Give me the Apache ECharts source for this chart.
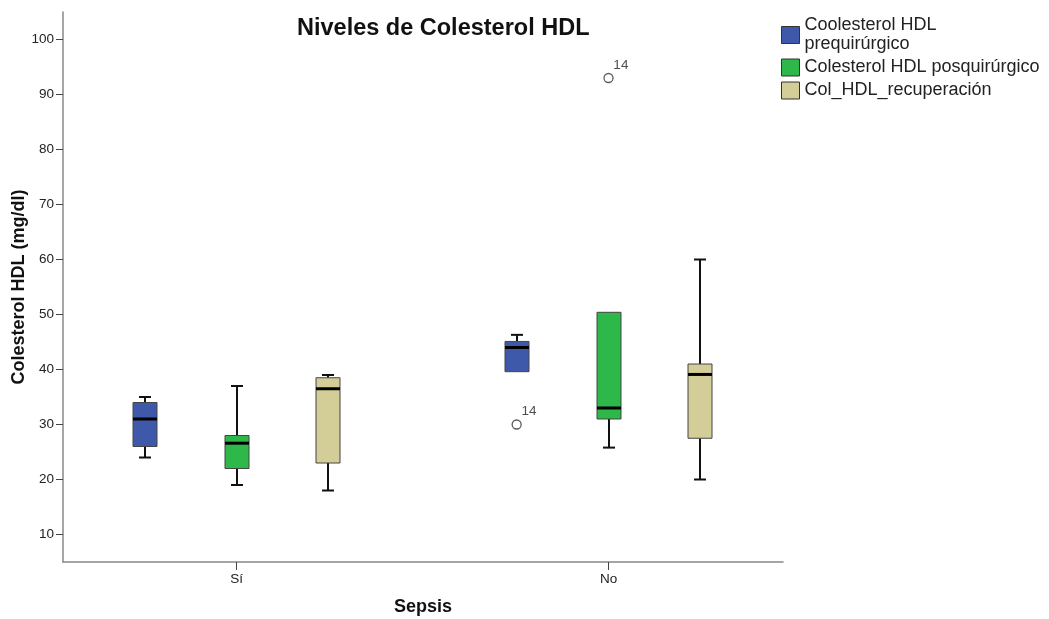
<!DOCTYPE html>
<html>
<head>
<meta charset="utf-8">
<script src="https://cdn.jsdelivr.net/npm/echarts@6/dist/echarts.min.js"></script>
<style>html,body{margin:0;padding:0;background:#fff}#c{width:1049px;height:619px}</style>
</head>
<body>
<div id="c"></div>
<script>
// ---- data ----
const categories = ['Sí', 'No'];
const seriesNames = ['Coolesterol HDL\nprequirúrgico', 'Colesterol HDL posquirúrgico', 'Col_HDL_recuperación'];
// [min, Q1, median, Q3, max] per category (Sí, No)
const preQuirurgico = [[24, 26, 31, 34, 35], [39.6, 39.6, 44, 45.1, 46.3]];
const posQuirurgico = [[19, 22, 26.6, 28, 37], [25.8, 31, 33, 50.4, 50.4]];
const recuperacion  = [[18, 23, 36.5, 38.5, 39], [20, 27.5, 39.1, 41, 60]];
// outliers: [categoryIndex, value, case label]
const preOutliers = [[1, 30, '14']];
const posOutliers = [[1, 93, '14']];
const recOutliers = [];
const yTicks = [10, 20, 30, 40, 50, 60, 70, 80, 90, 100];

const colors = ['#3E58AA', '#2EB84A', '#D3CE97'];
const offsets = [-0.247, 0, 0.247];
const BOX_W = 24, CAP_W = 12;
const FONT = 'Liberation Sans, Arial, sans-serif';

function makeRender(si) {
  return function (params, api) {
    const x = api.value(0) + offsets[si];
    const pMin = api.coord([x, api.value(1)]);
    const pQ1 = api.coord([x, api.value(2)]);
    const pMed = api.coord([x, api.value(3)]);
    const pQ3 = api.coord([x, api.value(4)]);
    const pMax = api.coord([x, api.value(5)]);
    const cx = Math.round(pMed[0]);
    const hw = BOX_W / 2, cw = CAP_W / 2;
    const lineStyle = { stroke: '#111', lineWidth: 2 };
    const children = [];
    if (pMax[1] < pQ3[1] - 0.5) {
      children.push({ type: 'line', shape: { x1: cx, y1: pQ3[1], x2: cx, y2: pMax[1] }, style: lineStyle });
      children.push({ type: 'line', shape: { x1: cx - cw, y1: pMax[1], x2: cx + cw, y2: pMax[1] }, style: lineStyle });
    }
    if (pMin[1] > pQ1[1] + 0.5) {
      children.push({ type: 'line', shape: { x1: cx, y1: pQ1[1], x2: cx, y2: pMin[1] }, style: lineStyle });
      children.push({ type: 'line', shape: { x1: cx - cw, y1: pMin[1], x2: cx + cw, y2: pMin[1] }, style: lineStyle });
    }
    children.push({ type: 'rect', shape: { x: cx - hw, y: pQ3[1], width: BOX_W, height: pQ1[1] - pQ3[1] },
      style: { fill: colors[si], stroke: '#444', lineWidth: 1 } });
    children.push({ type: 'line', shape: { x1: cx - hw, y1: pMed[1], x2: cx + hw, y2: pMed[1] },
      style: { stroke: '#000', lineWidth: 3 } });
    return { type: 'group', children: children };
  };
}

const boxData = [preQuirurgico, posQuirurgico, recuperacion];
const outData = [preOutliers, posOutliers, recOutliers];

const series = [];
boxData.forEach(function (arr, si) {
  series.push({
    name: seriesNames[si],
    type: 'custom',
    renderItem: makeRender(si),
    itemStyle: { color: colors[si], borderColor: '#444', borderWidth: 1 },
    encode: { x: 0, y: [1, 2, 3, 4, 5] },
    data: arr.map(function (d, ci) { return [ci].concat(d); }),
    z: 2
  });
});
outData.forEach(function (arr, si) {
  if (!arr.length) return;
  series.push({
    name: 'out' + si,
    type: 'scatter',
    symbol: 'circle',
    symbolSize: 9,
    itemStyle: { color: '#fff', borderColor: '#333', borderWidth: 1.3 },
    label: { show: true, position: [10, -15], formatter: function (p) { return p.data[2]; },
      fontSize: 13.5, color: '#222', fontFamily: FONT },
    data: arr.map(function (o) { return [o[0] + offsets[si], o[1], o[2]]; }),
    z: 3
  });
});

const chart = echarts.init(document.getElementById('c'), null, { renderer: 'canvas' });
chart.setOption({
  animation: false,
  backgroundColor: '#fff',
  title: {
    text: 'Niveles de Colesterol HDL',
    left: 297, top: 17, padding: 0,
    textStyle: { fontFamily: FONT, fontSize: 23.5, fontWeight: 'bold', color: '#111' }
  },
  legend: {
    data: seriesNames,
    orient: 'vertical',
    left: 781, top: 16, padding: 0,
    itemWidth: 18, itemHeight: 17, itemGap: 4,
    icon: 'rect',
    itemStyle: { borderColor: '#333', borderWidth: 1 },
    textStyle: { fontFamily: FONT, fontSize: 18, color: '#222', lineHeight: 19 }
  },
  grid: { left: 63, top: 12, width: 720, height: 550, containLabel: false, outerBoundsMode: 'none' },
  xAxis: {
    type: 'value',
    min: -0.4664, max: 1.469,
    name: 'Sepsis', nameLocation: 'middle', nameGap: 36, nameMoveOverlap: false,
    nameTextStyle: { fontFamily: FONT, fontSize: 18, fontWeight: 'bold', color: '#111' },
    axisLine: { show: true, onZero: false, lineStyle: { color: '#888', width: 1.5 } },
    axisTick: { show: true, length: 8, customValues: [0, 1], lineStyle: { color: '#444' } },
    axisLabel: { customValues: [0, 1], margin: 10, fontFamily: FONT, fontSize: 13.5, color: '#222',
      formatter: function (v) { return categories[Math.round(v)]; } },
    splitLine: { show: false }
  },
  yAxis: {
    type: 'value',
    min: 5, max: 105,
    name: 'Colesterol HDL (mg/dl)', nameLocation: 'middle', nameGap: 35, nameMoveOverlap: false,
    nameTextStyle: { fontFamily: FONT, fontSize: 18, fontWeight: 'bold', color: '#111' },
    axisLine: { show: true, onZero: false, lineStyle: { color: '#888', width: 1.5 } },
    axisTick: { show: true, length: 7, customValues: yTicks, lineStyle: { color: '#444' } },
    axisLabel: { customValues: yTicks, margin: 9, fontFamily: FONT, fontSize: 13.5, color: '#222' },
    splitLine: { show: false }
  },
  series: series
});
</script>
</body>
</html>
